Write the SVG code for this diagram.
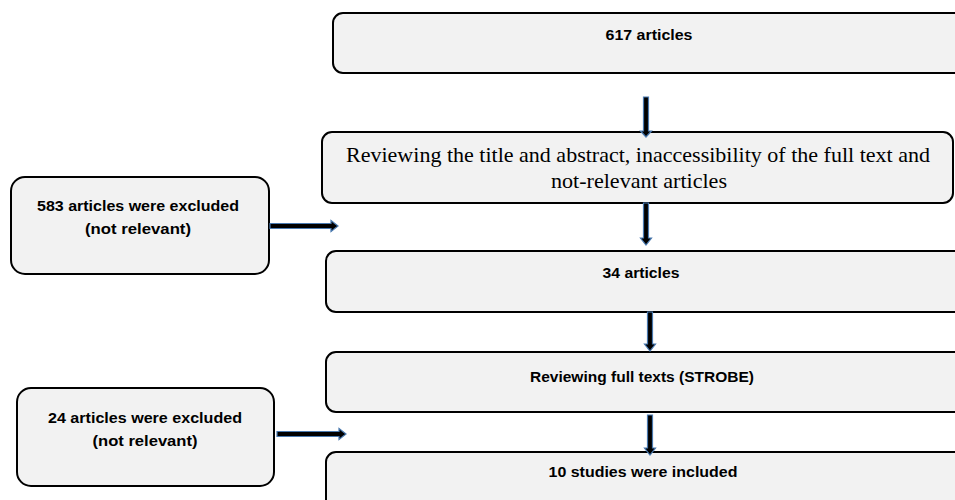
<svg xmlns="http://www.w3.org/2000/svg" width="955" height="500" viewBox="0 0 955 500">
<style>
.box{fill:#f2f2f2;stroke:#000;stroke-width:2}
.t{font-family:"Liberation Sans",Arial,sans-serif;font-weight:bold;font-size:15px;fill:#000;text-anchor:middle}
.s{font-family:"Liberation Serif","Times New Roman",serif;font-size:21px;fill:#000;text-anchor:middle}
.arr{fill:#000;stroke:#4a7ab0;stroke-width:1.2}
</style>
<rect width="955" height="500" fill="#fff"/>
<g id="n617"><rect class="box" x="333" y="13" width="640" height="60" rx="10"/><text class="t" x="649" y="40" textLength="87" lengthAdjust="spacingAndGlyphs">617 articles</text></g>
<g id="review"><rect class="box" x="322" y="132" width="631" height="71" rx="10"/><text class="s" x="638" y="162" textLength="584" lengthAdjust="spacingAndGlyphs">Reviewing the title and abstract, inaccessibility of the full text and</text><text class="s" x="639" y="188" textLength="176" lengthAdjust="spacingAndGlyphs">not-relevant articles</text></g>
<g id="excl583"><rect class="box" x="11" y="177" width="258" height="97" rx="14"/><text class="t" x="138" y="211" textLength="202" lengthAdjust="spacingAndGlyphs">583 articles were excluded</text><text class="t" x="138" y="234" textLength="106" lengthAdjust="spacingAndGlyphs">(not relevant)</text></g>
<g id="n34"><rect class="box" x="326" y="251" width="640" height="61" rx="10"/><text class="t" x="641" y="278" textLength="77" lengthAdjust="spacingAndGlyphs">34 articles</text></g>
<g id="fulltext"><rect class="box" x="326" y="352" width="640" height="60" rx="10"/><text class="t" x="642" y="382" textLength="224" lengthAdjust="spacingAndGlyphs">Reviewing full texts (STROBE)</text></g>
<g id="excl24"><rect class="box" x="17" y="388" width="257" height="98" rx="14"/><text class="t" x="145" y="423" textLength="194" lengthAdjust="spacingAndGlyphs">24 articles were excluded</text><text class="t" x="145" y="446" textLength="105" lengthAdjust="spacingAndGlyphs">(not relevant)</text></g>
<g id="n10"><rect class="box" x="326" y="452" width="640" height="70" rx="10"/><text class="t" x="643" y="477" textLength="189" lengthAdjust="spacingAndGlyphs">10 studies were included</text></g>
<g id="connectors">
<path class="arr" d="M643.5 97 H648.5 V131 H651.5 L646 137 L640.5 131 H643.5 Z"/>
<path class="arr" d="M643.5 203 H648.5 V238 H651.5 L646 245 L640.5 238 H643.5 Z"/>
<path class="arr" d="M647.5 312 H652.5 V344 H655.5 L650 351 L644.5 344 H647.5 Z"/>
<path class="arr" d="M647.5 415 H652.5 V448 H655.5 L650 455 L644.5 448 H647.5 Z"/>
<path class="arr" d="M270 223.5 H331 V220.5 L338 226 L331 231.5 V228.5 H270 Z"/>
<path class="arr" d="M277 431.5 H339 V428.5 L346 434 L339 439.5 V436.5 H277 Z"/>
</g>
</svg>
